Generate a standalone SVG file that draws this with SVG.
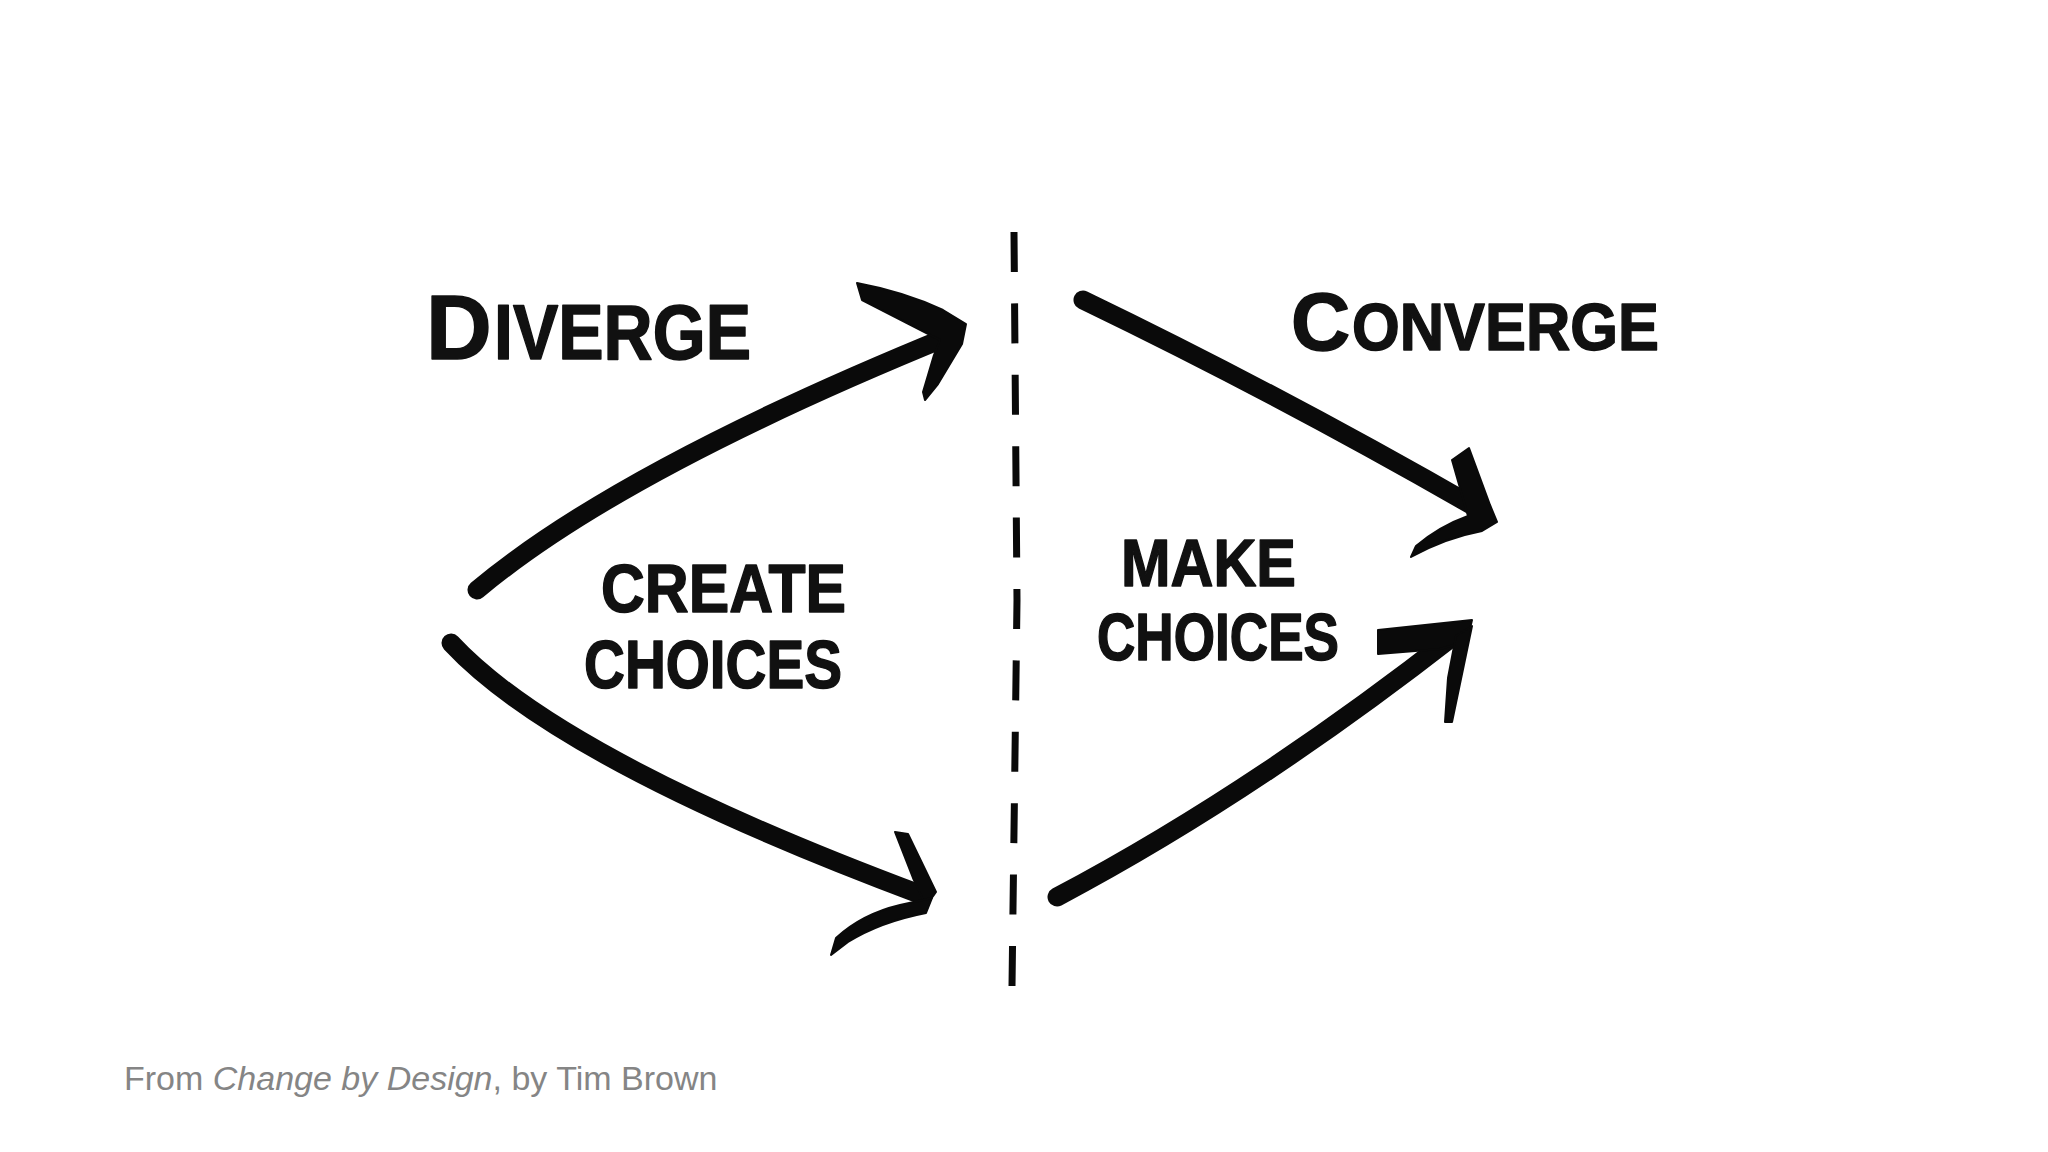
<svg xmlns="http://www.w3.org/2000/svg" width="2048" height="1152" viewBox="0 0 2048 1152">
<style>
.lbl{font-family:"Liberation Sans",Arial,sans-serif;font-weight:700;fill:#111;stroke:#111;stroke-width:1.5;stroke-linejoin:round}
.shaft{fill:none;stroke:#0a0a0a;stroke-width:19;stroke-linecap:round}
.head{fill:#0a0a0a;stroke:#0a0a0a;stroke-width:2;stroke-linejoin:round}
.divider{fill:none;stroke:#0a0a0a;stroke-width:7;stroke-dasharray:40 31.4;stroke-linecap:butt}
.foot{font-family:"Liberation Sans",Arial,sans-serif;font-size:34px;fill:#858585}
</style>
<rect width="2048" height="1152" fill="#ffffff"/>

<g id="connectors">
  <path class="divider" d="M1014,232 L1017,600 L1012,986"/>
  <!-- diverge up -->
  <path class="shaft" d="M477,590 Q620,470 952,335"/>
  <path class="head" d="M857,283 Q905,292 943,310 L966,324 L962,344 L938,384 L925,400 L923,392 L934,355 L940,340 Q905,322 862,300 Z"/>
  <!-- diverge down -->
  <path class="shaft" d="M451,643 Q560,760 922,895"/>
  <path class="head" d="M895,832 L908,834 L936,892 L926,906 L913,878 Z"/>
  <path class="head" d="M932,898 L926,913 Q880,922 848,942 L831,955 L836,938 Q862,914 900,905 Z"/>
  <!-- converge top -->
  <path class="shaft" d="M1083,300 Q1280,395 1480,510"/>
  <path class="head" d="M1452,460 L1469,448 L1490,505 L1497,522 L1482,531 Q1445,538 1411,557 L1416,546 Q1440,526 1468,516 Z"/>
  <!-- converge bottom -->
  <path class="shaft" d="M1057,897 Q1250,795 1455,635"/>
  <path class="head" d="M1378,630 L1472,620 L1467,641 L1440,649 L1378,654 Z"/>
  <path class="head" d="M1456,636 L1472,626 L1452,722 L1445,722 L1448,678 Z"/>
</g>

<g id="diverge">
  <text class="lbl" y="359"><tspan x="426" font-size="91">D</tspan><tspan x="494" font-size="77" textLength="257" lengthAdjust="spacingAndGlyphs">IVERGE</tspan></text>
</g>
<g id="converge">
  <text class="lbl" y="350"><tspan x="1291" font-size="82">C</tspan><tspan x="1352" font-size="66" textLength="307" lengthAdjust="spacingAndGlyphs">ONVERGE</tspan></text>
</g>
<g id="create-choices">
  <text class="lbl" font-size="68"><tspan x="601" y="612" textLength="245" lengthAdjust="spacingAndGlyphs">CREATE</tspan><tspan x="584" y="688" textLength="258" lengthAdjust="spacingAndGlyphs">CHOICES</tspan></text>
</g>
<g id="make-choices">
  <text class="lbl" font-size="66"><tspan x="1121" y="586" textLength="175" lengthAdjust="spacingAndGlyphs">MAKE</tspan><tspan x="1097" y="660" textLength="242" lengthAdjust="spacingAndGlyphs">CHOICES</tspan></text>
</g>

<g id="caption">
  <text class="foot" x="124" y="1090">From <tspan font-style="italic">Change by Design</tspan>, by Tim Brown</text>
</g>
</svg>
